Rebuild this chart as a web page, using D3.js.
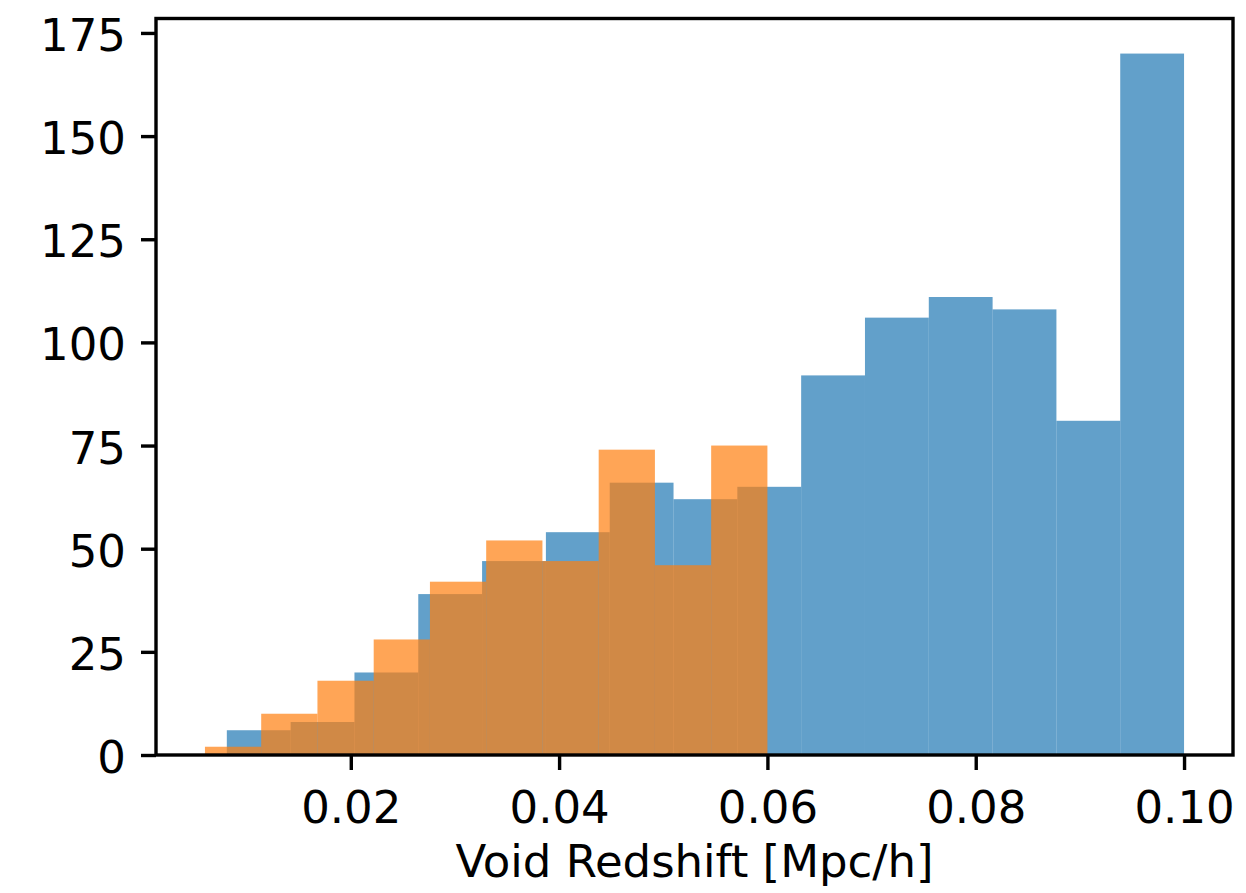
<!DOCTYPE html>
<html>
<head>
<meta charset="utf-8">
<script src="https://cdn.jsdelivr.net/npm/d3@7"></script>
<style>
  body { margin: 0; background: #fff; }
  text { font-family: "DejaVu Sans", sans-serif; }
</style>
</head>
<body>
<div id="chart"></div>
<script>
// histogram counts
var blueCounts = [6, 8, 20, 39, 47, 54, 66, 62, 65, 92, 106, 111, 108, 81, 170];
var blueRange = [0.0081, 0.1];
var orangeCounts = [2, 10, 18, 28, 42, 52, 47, 74, 46, 75];
var orangeRange = [0.0060, 0.06];
var xTicks = [0.02, 0.04, 0.06, 0.08, 0.10];
var yTicks = [0, 25, 50, 75, 100, 125, 150, 175];
var xLabel = "Void Redshift [Mpc/h]";

var W = 1246, H = 893;
var margin = {top: 18.5, right: 13, bottom: 138, left: 156};
var width = W - margin.left - margin.right;
var height = H - margin.top - margin.bottom;
var fontSize = 45;

function toBins(counts, range) {
  var step = (range[1] - range[0]) / counts.length;
  return counts.map(function(c, i) {
    return {x0: range[0] + i * step, x1: range[0] + (i + 1) * step, count: c};
  });
}
var blueBins = toBins(blueCounts, blueRange);
var orangeBins = toBins(orangeCounts, orangeRange);

// matplotlib style 5% margins
var lo = Math.min(blueRange[0], orangeRange[0]), hi = Math.max(blueRange[1], orangeRange[1]);
var pad = (hi - lo) * 0.05;
var x = d3.scaleLinear().domain([lo - pad, hi + pad]).range([0, width]);
var yMax = d3.max(blueCounts.concat(orangeCounts)) * 1.05;
var y = d3.scaleLinear().domain([0, yMax]).range([height, 0]);

var svg = d3.select("#chart").append("svg")
  .attr("width", W)
  .attr("height", H)
  .append("g")
  .attr("transform", "translate(" + margin.left + "," + margin.top + ")");

function drawBars(bins, color) {
  svg.append("g").selectAll("rect")
    .data(bins)
    .enter()
    .append("rect")
      .attr("x", function(d) { return x(d.x0); })
      .attr("y", function(d) { return y(d.count); })
      .attr("width", function(d) { return x(d.x1) - x(d.x0); })
      .attr("height", function(d) { return height - y(d.count); })
      .attr("fill", color)
      .attr("fill-opacity", 0.7);
}
drawBars(blueBins, "#1f77b4");
drawBars(orangeBins, "#ff7f0e");

var tickLen = 15, tickPad = 15;

var xAxis = svg.append("g")
  .attr("transform", "translate(0," + height + ")")
  .call(d3.axisBottom(x).tickValues(xTicks).tickFormat(d3.format(".2f"))
    .tickSize(tickLen).tickPadding(tickPad).tickSizeOuter(0));
xAxis.select(".domain").remove();
xAxis.selectAll("line").attr("stroke", "#000").attr("stroke-width", 3.4);
xAxis.selectAll("text").attr("font-size", fontSize).attr("fill", "#000")
  .attr("font-family", "DejaVu Sans").attr("dy", "0.84em");

var yAxis = svg.append("g")
  .call(d3.axisLeft(y).tickValues(yTicks)
    .tickSize(tickLen).tickPadding(tickPad).tickSizeOuter(0));
yAxis.select(".domain").remove();
yAxis.selectAll("line").attr("stroke", "#000").attr("stroke-width", 3.4);
yAxis.selectAll("text").attr("font-size", fontSize).attr("fill", "#000")
  .attr("font-family", "DejaVu Sans").attr("dy", "0.39em");

// frame
svg.append("rect")
  .attr("x", 0).attr("y", 0)
  .attr("width", width).attr("height", height)
  .attr("fill", "none")
  .attr("stroke", "#000")
  .attr("stroke-width", 3.4);

svg.append("text")
  .attr("x", width / 2)
  .attr("y", height + 122)
  .attr("text-anchor", "middle")
  .attr("font-size", fontSize)
  .attr("fill", "#000")
  .text(xLabel);
</script>
</body>
</html>
